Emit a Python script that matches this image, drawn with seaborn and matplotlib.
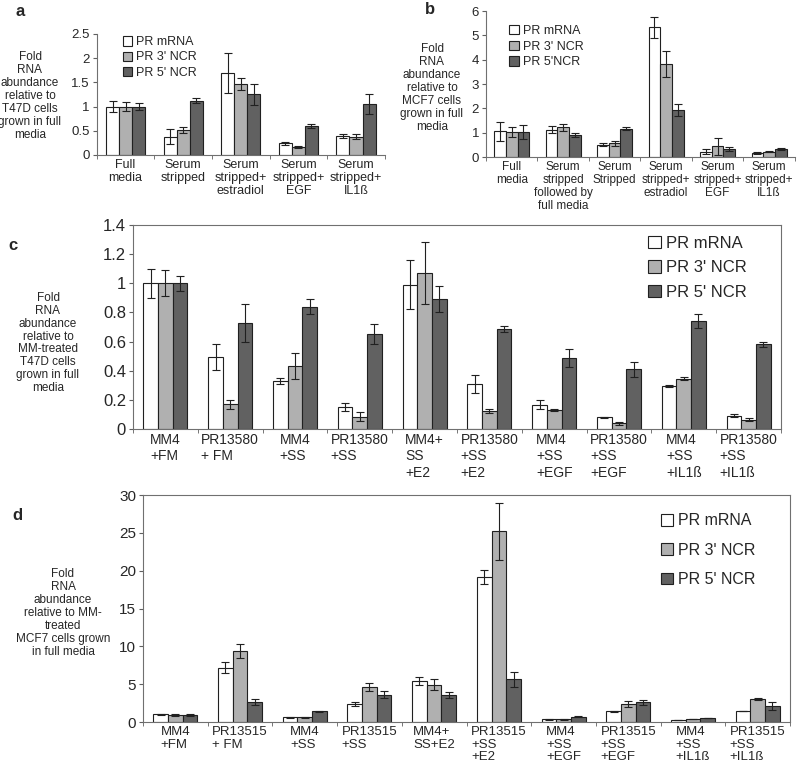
import numpy as np
import pandas as pd
import matplotlib
matplotlib.use("Agg")
import matplotlib.pyplot as plt
import seaborn as sns

# ---- data ----
series = ["PR mRNA", "PR 3' NCR", "PR 5' NCR"]
series_b = ["PR mRNA", "PR 3' NCR", "PR 5'NCR"]
colors = ["#ffffff", "#b0b0b0", "#616161"]

# a: T47D
cats_a = ["Full\nmedia", "Serum\nstripped", "Serum\nstripped+\nestradiol",
          "Serum\nstripped+\nEGF", "Serum\nstripped+\nIL1ß"]
a_mrna = [1.0, 0.38, 1.69, 0.24, 0.40]
a_mrna_err = [0.11, 0.16, 0.41, 0.03, 0.04]
a_ncr3 = [1.0, 0.51, 1.47, 0.16, 0.38]
a_ncr3_err = [0.10, 0.06, 0.13, 0.02, 0.05]
a_ncr5 = [1.0, 1.12, 1.25, 0.60, 1.05]
a_ncr5_err = [0.07, 0.05, 0.21, 0.04, 0.21]

# b: MCF7
cats_b = ["Full\nmedia", "Serum\nstripped\nfollowed by\nfull media", "Serum\nStripped",
          "Serum\nstripped+\nestradiol", "Serum\nstripped+\nEGF", "Serum\nstripped+\nIL1ß"]
b_mrna = [1.05, 1.12, 0.50, 5.33, 0.22, 0.18]
b_mrna_err = [0.40, 0.15, 0.06, 0.42, 0.10, 0.04]
b_ncr3 = [1.03, 1.22, 0.56, 3.82, 0.44, 0.22]
b_ncr3_err = [0.22, 0.13, 0.10, 0.52, 0.35, 0.03]
b_ncr5 = [1.03, 0.92, 1.16, 1.92, 0.32, 0.32]
b_ncr5_err = [0.30, 0.08, 0.06, 0.25, 0.08, 0.05]

# c: MM-treated T47D
cats_c = ["MM4\n+FM", "PR13580\n+ FM", "MM4\n+SS", "PR13580\n+SS", "MM4+\nSS\n+E2",
          "PR13580\n+SS\n+E2", "MM4\n+SS\n+EGF", "PR13580\n+SS\n+EGF",
          "MM4\n+SS\n+IL1ß", "PR13580\n+SS\n+IL1ß"]
c_mrna = [1.0, 0.495, 0.33, 0.15, 0.99, 0.31, 0.167, 0.08, 0.295, 0.092]
c_mrna_err = [0.10, 0.09, 0.02, 0.03, 0.17, 0.06, 0.03, 0.005, 0.01, 0.008]
c_ncr3 = [1.0, 0.17, 0.43, 0.085, 1.07, 0.124, 0.13, 0.04, 0.346, 0.064]
c_ncr3_err = [0.09, 0.03, 0.09, 0.03, 0.21, 0.015, 0.005, 0.01, 0.01, 0.008]
c_ncr5 = [1.0, 0.73, 0.84, 0.65, 0.89, 0.685, 0.486, 0.41, 0.74, 0.58]
c_ncr5_err = [0.05, 0.13, 0.05, 0.07, 0.09, 0.02, 0.06, 0.05, 0.05, 0.02]

# d: MM-treated MCF7
cats_d = ["MM4\n+FM", "PR13515\n+ FM", "MM4\n+SS", "PR13515\n+SS", "MM4+\nSS+E2",
          "PR13515\n+SS\n+E2", "MM4\n+SS\n+EGF", "PR13515\n+SS\n+EGF",
          "MM4\n+SS\n+IL1ß", "PR13515\n+SS\n+IL1ß"]
d_mrna = [1.0, 7.17, 0.6, 2.4, 5.46, 19.2, 0.35, 1.4, 0.3, 1.45]
d_mrna_err = [0.10, 0.7, 0.10, 0.25, 0.55, 0.9, 0.05, 0.05, 0.03, 0.05]
d_ncr3 = [0.95, 9.4, 0.6, 4.6, 4.93, 25.2, 0.35, 2.4, 0.4, 3.0]
d_ncr3_err = [0.12, 0.9, 0.05, 0.5, 0.7, 3.8, 0.05, 0.4, 0.05, 0.15]
d_ncr5 = [0.95, 2.68, 1.4, 3.6, 3.52, 5.63, 0.7, 2.6, 0.55, 2.1]
d_ncr5_err = [0.15, 0.4, 0.05, 0.45, 0.4, 1.0, 0.1, 0.3, 0.03, 0.5]

sns.set_style("white")
plt.rcParams['font.family'] = ['Liberation Sans', 'DejaVu Sans']


def panel(ax, cats, vals, errs, labels, ymax, yticks, tick_fs, x_fs, x_ls,
          leg_fs, leg_pos, leg_gap, box, ma):
    df = pd.DataFrame({
        'cat': [c for v in vals for c in cats],
        'val': [x for v in vals for x in v],
        'series': [lab for lab, v in zip(labels, vals) for _ in v],
    })
    sns.barplot(data=df, x='cat', y='val', hue='series', order=cats,
                hue_order=labels, palette=dict(zip(labels, colors)),
                edgecolor='#202020', linewidth=0.8, width=0.68,
                errorbar=None, ax=ax)
    for cont, err in zip(ax.containers, errs):
        for bar, e in zip(cont, err):
            ax.errorbar(bar.get_x() + bar.get_width() / 2, bar.get_height(),
                        yerr=e, color='#202020', lw=0.8, capsize=3, capthick=0.8)
    n = len(cats)
    ax.set_xlim(-0.5, n - 0.5)
    ax.set_ylim(0, ymax)
    ax.set_yticks(yticks)
    ax.set_yticklabels(['%g' % t for t in yticks], fontsize=tick_fs)
    ax.set_xticks(range(n))
    ax.set_xticklabels(cats, fontsize=x_fs, linespacing=x_ls, ma=ma)
    ax.set_xticks(np.arange(-0.5, n), minor=True)
    ax.tick_params(axis='x', which='major', length=0, pad=3)
    ax.tick_params(axis='x', which='minor', length=3, direction='out',
                   bottom=True, color='#606060')
    ax.tick_params(axis='y', length=3, direction='out', left=True,
                   color='#606060', pad=2)
    ax.set_xlabel('')
    ax.set_ylabel('')
    for s in ['top', 'right']:
        ax.spines[s].set_visible(box)
    for s in ax.spines.values():
        s.set_color('#707070')
        s.set_linewidth(0.8)
    h, l = ax.get_legend_handles_labels()
    ax.legend(h, l, loc='upper left', bbox_to_anchor=leg_pos, frameon=False,
              fontsize=leg_fs, handlelength=0.75, handleheight=0.75,
              handletextpad=0.35, labelspacing=leg_gap, borderaxespad=0,
              borderpad=0)


fig = plt.figure(figsize=(8, 7.66), dpi=100)

ax_a = fig.add_axes([0.121, 0.7977, 0.36, 0.158])
panel(ax_a, cats_a, [a_mrna, a_ncr3, a_ncr5], [a_mrna_err, a_ncr3_err, a_ncr5_err],
      series, 2.5, [0, 0.5, 1, 1.5, 2, 2.5], 9.5, 9, 1.1, 9, (0.09, 0.98), 0.25,
      False, 'center')

ax_b = fig.add_axes([0.6075, 0.795, 0.386, 0.1906])
panel(ax_b, cats_b, [b_mrna, b_ncr3, b_ncr5], [b_mrna_err, b_ncr3_err, b_ncr5_err],
      series_b, 6, [0, 1, 2, 3, 4, 5, 6], 9.5, 8.5, 1.1, 9, (0.075, 0.905), 0.3,
      False, 'center')

ax_c = fig.add_axes([0.16625, 0.44, 0.81, 0.2663])
panel(ax_c, cats_c, [c_mrna, c_ncr3, c_ncr5], [c_mrna_err, c_ncr3_err, c_ncr5_err],
      series, 1.4, [0, 0.2, 0.4, 0.6, 0.8, 1, 1.2, 1.4], 12, 10, 1.2, 12,
      (0.795, 0.945), 0.55, True, 'left')

ax_d = fig.add_axes([0.17875, 0.0574, 0.80875, 0.2963])
panel(ax_d, cats_d, [d_mrna, d_ncr3, d_ncr5], [d_mrna_err, d_ncr3_err, d_ncr5_err],
      series, 30, [0, 5, 10, 15, 20, 25, 30], 11, 9.5, 1.05, 11.5,
      (0.80, 0.92), 0.9, True, 'left')

# panel letters
fig.text(15 / 800, 1 - 12 / 766, 'a', fontsize=12, fontweight='bold', va='center')
fig.text(425 / 800, 1 - 10 / 766, 'b', fontsize=12, fontweight='bold', va='center')
fig.text(8 / 800, 1 - 245 / 766, 'c', fontsize=12, fontweight='bold', va='center')
fig.text(12 / 800, 1 - 515 / 766, 'd', fontsize=12, fontweight='bold', va='center')

# y-axis descriptions
ylab_a = "Fold\nRNA\nabundance\nrelative to\nT47D cells\ngrown in full\nmedia"
ylab_b = "Fold\nRNA\nabundance\nrelative to\nMCF7 cells\ngrown in full\nmedia"
ylab_c = "Fold\nRNA\nabundance\nrelative to\nMM-treated\nT47D cells\ngrown in full\nmedia"
ylab_d = "Fold\nRNA\nabundance\nrelative to MM-\ntreated\nMCF7 cells grown\nin full media"
for txt, x, y in [(ylab_a, 30, 96), (ylab_b, 432, 88), (ylab_c, 48, 343), (ylab_d, 63, 613)]:
    fig.text(x / 800, 1 - y / 766, txt, fontsize=8.5, ha='center', va='center',
             ma='center', linespacing=1.1)

fig.savefig('out.png', dpi=100)
